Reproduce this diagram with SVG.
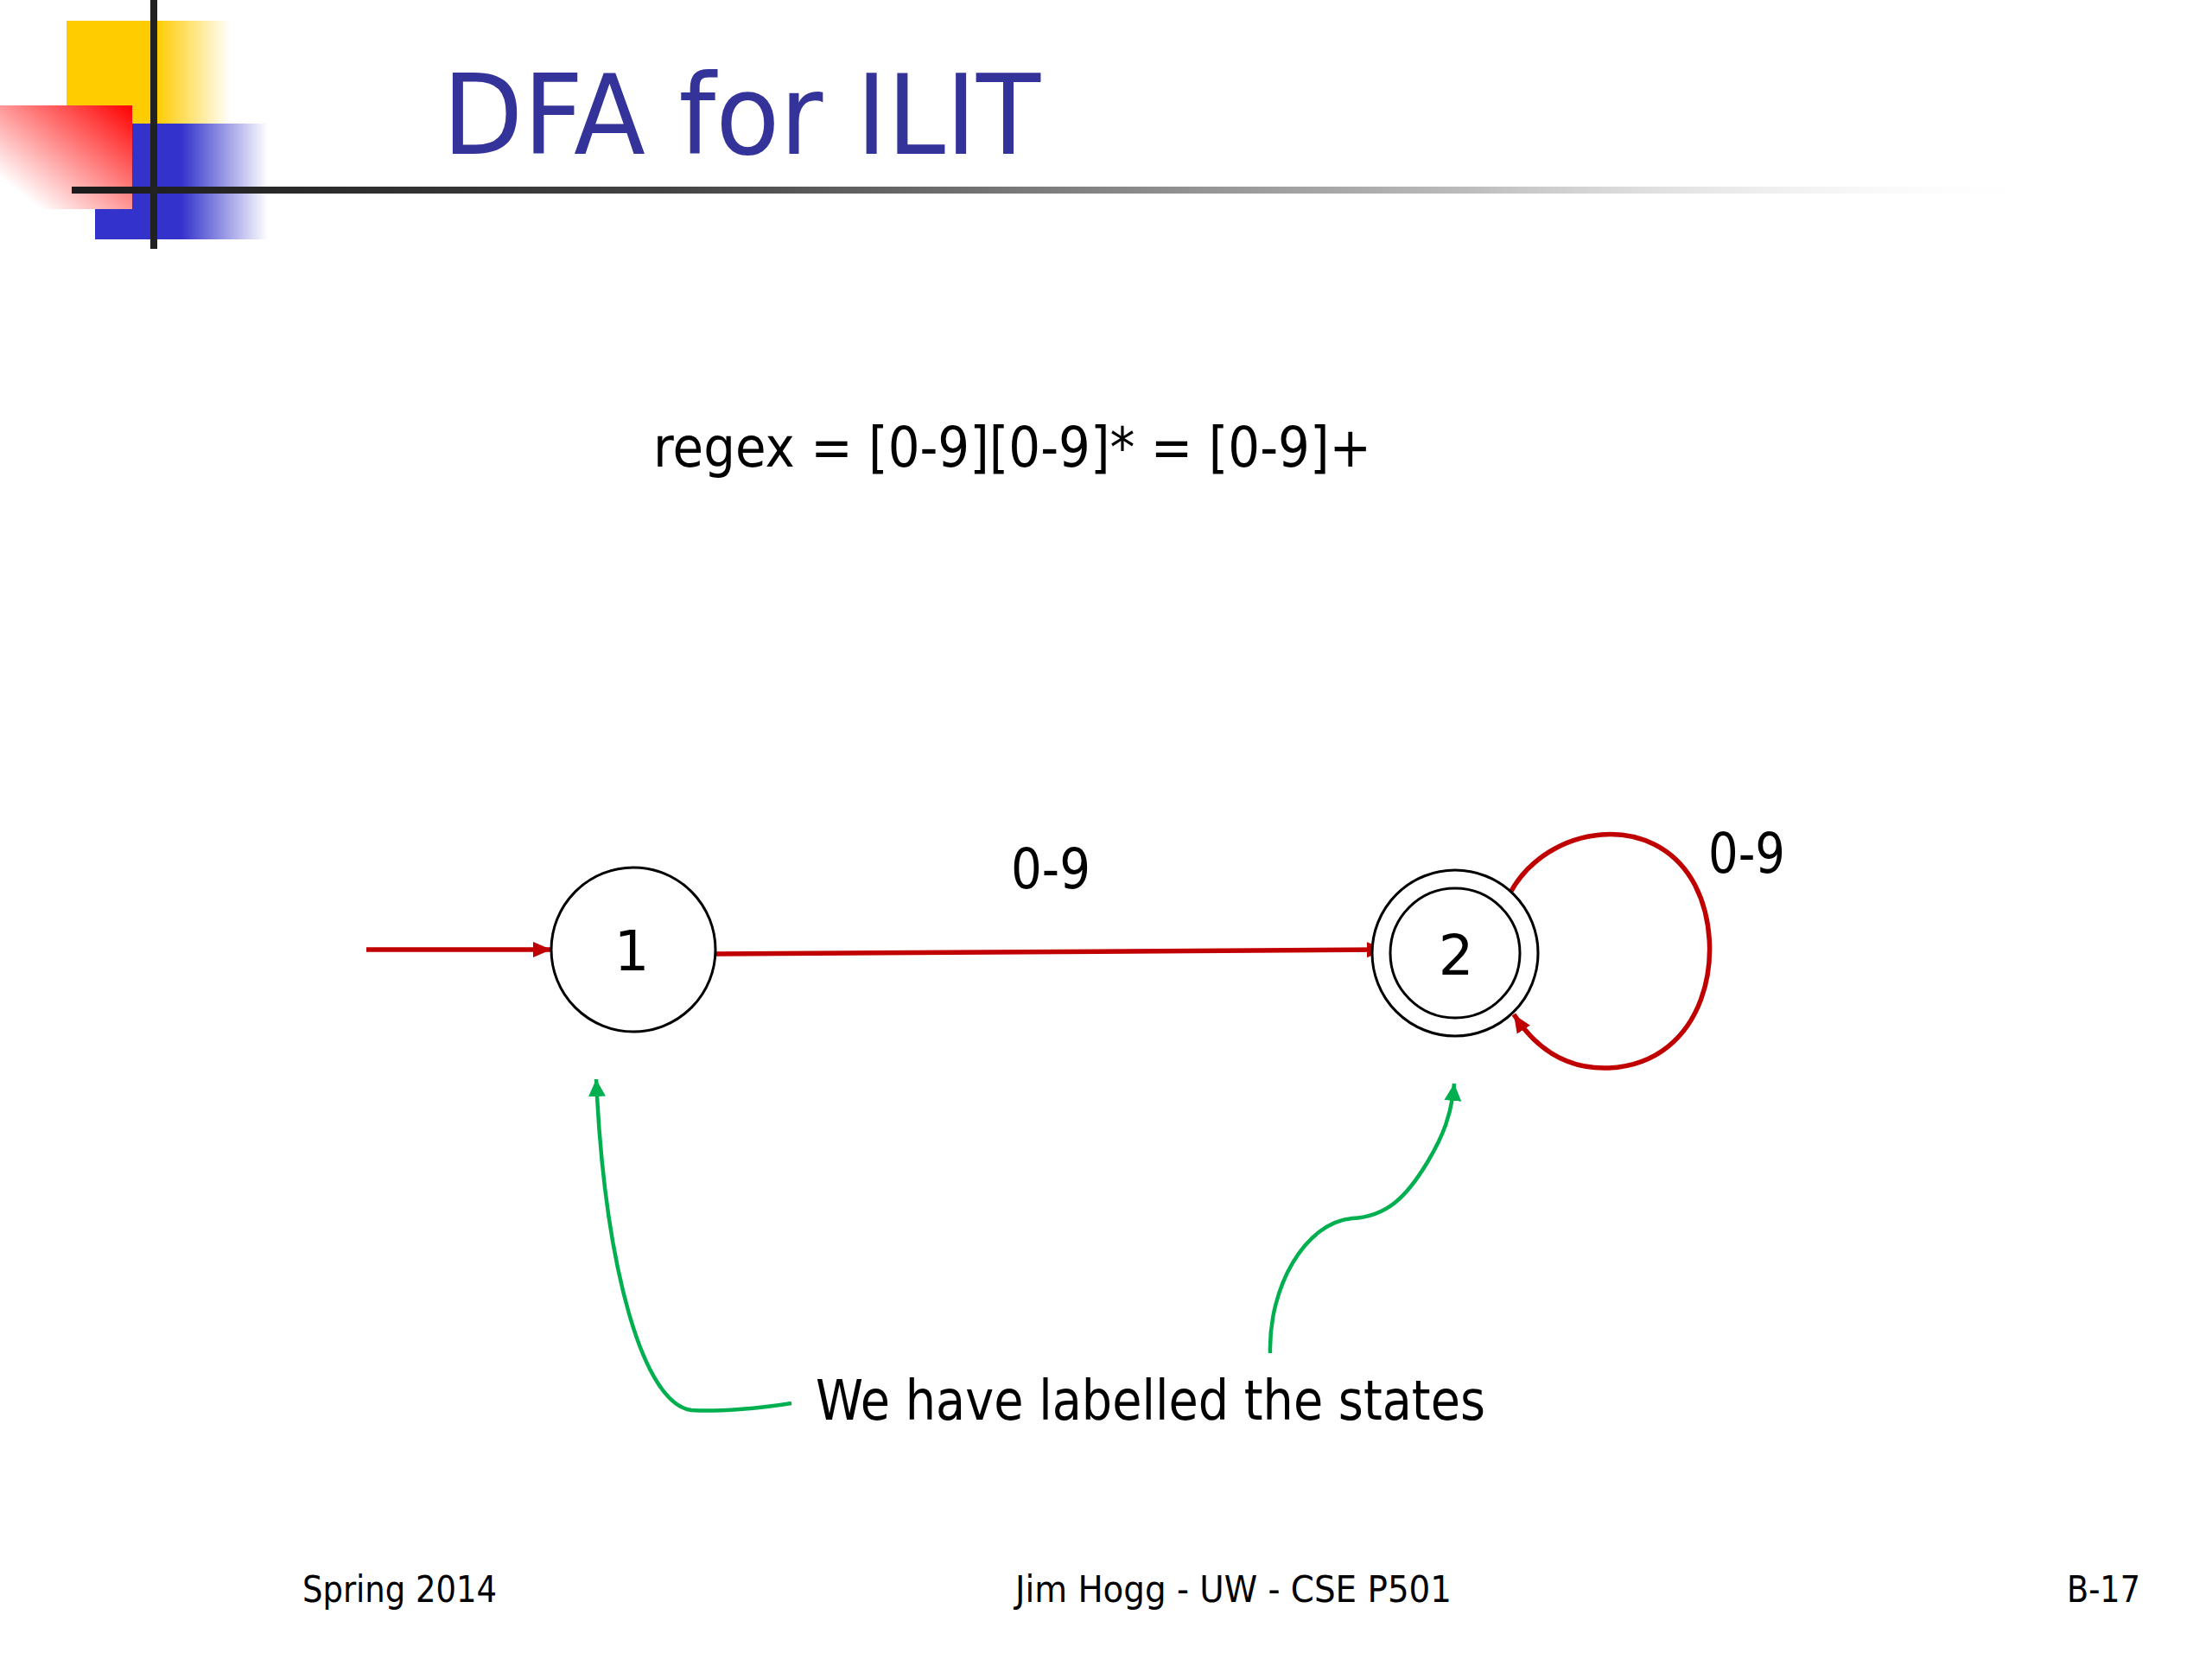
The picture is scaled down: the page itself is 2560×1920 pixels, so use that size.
<svg xmlns="http://www.w3.org/2000/svg" width="2560" height="1920" viewBox="0 0 2560 1920">
<defs>
<style>
.t{font-family:"DejaVu Sans","Verdana",sans-serif;fill:#000}
.node{fill:#fff;stroke:#000;stroke-width:3}
.red{fill:none;stroke:#C00000;stroke-width:5.5}
.green{fill:none;stroke:#00B050;stroke-width:4.5}
</style>
<marker id="ar" markerUnits="userSpaceOnUse" markerWidth="22" markerHeight="20" refX="21" refY="10" orient="auto"><path d="M0,1 L21,10 L0,19 z" fill="#C00000"/></marker>
<marker id="ag" markerUnits="userSpaceOnUse" markerWidth="22" markerHeight="22" refX="20" refY="10" orient="auto"><path d="M0,0 L20,10 L0,20 z" fill="#00B050"/></marker>
<linearGradient id="gy" x1="0" y1="0" x2="1" y2="0"><stop offset="0" stop-color="#FFCC00"/><stop offset="0.55" stop-color="#FFCC00"/><stop offset="1" stop-color="#FFCC00" stop-opacity="0"/></linearGradient>
<linearGradient id="gb" x1="0" y1="0" x2="1" y2="0"><stop offset="0" stop-color="#3333CC"/><stop offset="0.5" stop-color="#3333CC"/><stop offset="1" stop-color="#3333CC" stop-opacity="0"/></linearGradient>
<linearGradient id="gr" x1="1" y1="0" x2="0" y2="1"><stop offset="0" stop-color="#FF0000"/><stop offset="0.85" stop-color="#FF0000" stop-opacity="0"/></linearGradient>
<linearGradient id="gl" x1="0" y1="0" x2="1" y2="0"><stop offset="0" stop-color="#1a1a1a"/><stop offset="0.3" stop-color="#444"/><stop offset="0.7" stop-color="#bbb"/><stop offset="1" stop-color="#fff" stop-opacity="0"/></linearGradient>
</defs>
<rect width="2560" height="1920" fill="#fff"/>
<g id="decoration">
<rect x="77" y="24" width="190" height="119" fill="url(#gy)"/>
<rect x="110" y="143" width="200" height="134" fill="url(#gb)"/>
<rect x="0" y="122" width="153" height="120" fill="#fff"/>
<rect x="0" y="122" width="153" height="120" fill="url(#gr)"/>
<rect x="83" y="216" width="2300" height="8" fill="url(#gl)"/>
<rect x="174" y="0" width="8" height="288" fill="#222"/>
</g>
<text id="title" x="512" y="178" font-family="DejaVu Sans, Verdana, sans-serif" font-size="128" fill="#333399" textLength="692" lengthAdjust="spacingAndGlyphs">DFA for ILIT</text>
<text id="regex" class="t" x="756" y="540" font-size="64" textLength="831" lengthAdjust="spacingAndGlyphs">regex = [0-9][0-9]* = [0-9]+</text>
<g id="connectors">
<line class="red" x1="424" y1="1099" x2="638" y2="1099" marker-end="url(#ar)"/>
<line class="red" x1="828" y1="1104" x2="1603" y2="1099" stroke-width="6" marker-end="url(#ar)"/>
<path class="red" d="M1748,1033 C1790,955 1915,935 1962,1025 C2000,1100 1975,1230 1862,1236 C1810,1238 1775,1210 1752,1174" marker-end="url(#ar)"/>
<path class="green" d="M916,1624 C880,1630 830,1634 800,1632 C745,1625 700,1470 690,1249" marker-end="url(#ag)"/>
<path class="green" d="M1470,1566 C1468,1490 1510,1415 1565,1410 C1605,1408 1628,1385 1652,1345 C1670,1315 1680,1290 1683,1254" marker-end="url(#ag)"/>
</g>
<g id="node1">
<circle class="node" cx="733" cy="1099" r="95"/>
<text class="t" x="731" y="1123" font-size="64" text-anchor="middle">1</text>
</g>
<g id="node2">
<circle class="node" cx="1684" cy="1103" r="96"/>
<circle class="node" cx="1684" cy="1103" r="75"/>
<text class="t" x="1685" y="1128" font-size="64" text-anchor="middle">2</text>
</g>
<g id="labels">
<text class="t" x="1170" y="1028" font-size="64" textLength="92" lengthAdjust="spacingAndGlyphs">0-9</text>
<text class="t" x="1977" y="1010" font-size="64" textLength="89" lengthAdjust="spacingAndGlyphs">0-9</text>
<text class="t" x="944" y="1643" font-size="64" textLength="775" lengthAdjust="spacingAndGlyphs">We have labelled the states</text>
</g>
<g id="footer">
<text class="t" x="350" y="1854" font-size="42" textLength="225" lengthAdjust="spacingAndGlyphs">Spring 2014</text>
<text class="t" x="1175" y="1854" font-size="42" textLength="505" lengthAdjust="spacingAndGlyphs">Jim Hogg - UW - CSE P501</text>
<text class="t" x="2392" y="1854" font-size="42" textLength="85" lengthAdjust="spacingAndGlyphs">B-17</text>
</g>
</svg>
